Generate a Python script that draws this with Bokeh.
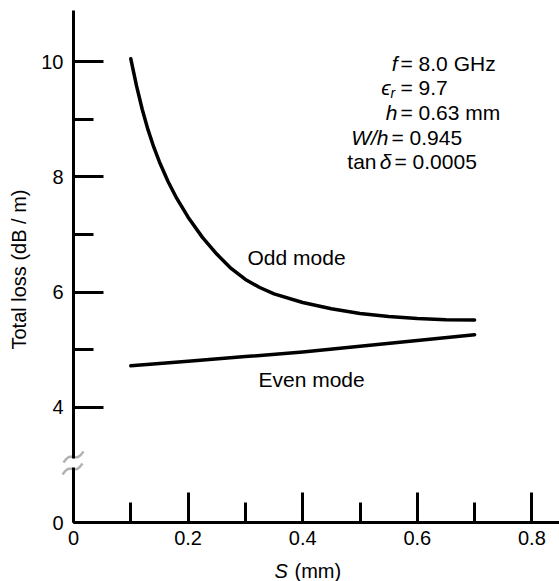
import math
from bokeh.plotting import figure
from bokeh.models import FixedTicker, Label, Range1d, PolyAnnotation, LinearAxis
from bokeh.embed import file_html
from bokeh.resources import INLINE

# ---------------- data ----------------
s_odd = [0.10, 0.11, 0.12, 0.13, 0.14, 0.15, 0.165, 0.18, 0.20, 0.225, 0.25, 0.275, 0.30,
         0.325, 0.35, 0.40, 0.45, 0.50, 0.55, 0.60, 0.65, 0.70]
loss_odd = [10.05, 9.58, 9.17, 8.82, 8.52, 8.26, 7.92, 7.63, 7.30, 6.95, 6.66, 6.41, 6.22,
            6.08, 5.97, 5.82, 5.71, 5.63, 5.575, 5.54, 5.52, 5.515]
s_even = [0.10, 0.20, 0.30, 0.40, 0.50, 0.60, 0.70]
loss_even = [4.72, 4.80, 4.88, 4.96, 5.06, 5.16, 5.26]

x_major = [0, 0.2, 0.4, 0.6, 0.8]
x_major_labels = ["0", "0.2", "0.4", "0.6", "0.8"]
x_minor = [0.1, 0.3, 0.5, 0.7]
y_major = [0, 4, 6, 8, 10]
y_major_labels = ["0", "4", "6", "8", "10"]
y_minor = [5, 7, 9]

curve_names = ["Odd mode", "Even mode"]
param_values = ["= 8.0 GHz", "= 9.7", "= 0.63 mm", "= 0.945", "= 0.0005"]

# ---------------- layout ----------------
W, H = 559, 581
X0_PX, Y0_PX = 73, 522      # pixel position of the axes origin
TOP_PX = 10                 # top end of the y axis
XS = 573.0                  # px per mm
YS = 57.6                   # px per dB/m
Y_ZERO = 2.0                # display position of the value 0 (below the axis break)

def ydisp(v):
    return v if v >= 3 else Y_ZERO + v * (3 - Y_ZERO) / 3.0

def dx(px):
    return (px - X0_PX) / XS

def dy(py):
    return Y_ZERO + (Y0_PX - py) / YS

FONT = "Liberation Sans"

p = figure(frame_width=W, frame_height=H, output_backend="svg", toolbar_location=None,
           x_range=Range1d(dx(0), dx(W)), y_range=Range1d(dy(H), dy(0)),
           x_axis_location=None, y_axis_location=None, min_border=0)
p.outline_line_color = None
p.grid.visible = False
p.background_fill_color = "white"
p.border_fill_color = "white"

def style_axis(ax, standoff):
    ax.axis_line_width = 3
    ax.axis_line_color = "black"
    ax.major_tick_in = 30
    ax.major_tick_out = 0
    ax.minor_tick_in = 20
    ax.minor_tick_out = 0
    ax.major_tick_line_width = 3
    ax.minor_tick_line_width = 3
    ax.major_tick_line_color = "black"
    ax.minor_tick_line_color = "black"
    ax.major_label_text_font = FONT
    ax.major_label_text_font_size = "20px"
    ax.major_label_text_color = "black"
    ax.major_label_standoff = standoff

# x axis, drawn at the (broken) zero of the y scale
xa = LinearAxis(fixed_location=Y_ZERO, bounds=(0, dx(W)))
xa.ticker = FixedTicker(ticks=x_major, minor_ticks=x_minor)
xa.major_label_overrides = {t: l for t, l in zip(x_major, x_major_labels)}
style_axis(xa, 8)
p.add_layout(xa, "below")

# y axis, drawn at S = 0
y_ticks_disp = [ydisp(v) for v in y_major]
ya = LinearAxis(fixed_location=0, bounds=(Y_ZERO, dy(TOP_PX)))
ya.ticker = FixedTicker(ticks=y_ticks_disp, minor_ticks=[ydisp(v) for v in y_minor])
ya.major_label_overrides = {t: l for t, l in zip(y_ticks_disp, y_major_labels)}
style_axis(ya, 10)
p.add_layout(ya, "left")

# curves
p.line(s_odd, [ydisp(v) for v in loss_odd], line_width=3.5, line_color="black",
       line_join="round", line_cap="round")
p.line(s_even, [ydisp(v) for v in loss_even], line_width=3.5, line_color="black",
       line_join="round", line_cap="round")

def add_label(text, px, py, size="20px", align="left", style="normal", angle=0.0):
    p.add_layout(Label(x=dx(px), y=dy(py), text=text, text_font=FONT, text_font_size=size,
                       text_align=align, text_baseline="middle", text_font_style=style,
                       text_color="black", angle=angle))

# curve labels
add_label(curve_names[0], 247, 257, size="21px")
add_label(curve_names[1], 258, 379, size="21px")

# parameters
PS = "21px"
add_label("f", 397, 63, size=PS, style="italic", align="right")
add_label(param_values[0], 400, 63, size=PS)
add_label("\u03f5", 390, 87, size=PS, style="italic", align="right")
add_label("r", 390, 92, size="14px", style="italic")
add_label(param_values[1], 400, 87, size=PS)
add_label("h", 397, 112, size=PS, style="italic", align="right")
add_label(param_values[2], 400, 112, size=PS)
add_label("W/h", 388, 137, size=PS, style="italic", align="right")
add_label(param_values[3], 391, 137, size=PS)
add_label("tan", 376, 161, size=PS, align="right")
add_label("\u03b4", 391, 161, size=PS, style="italic", align="right")
add_label(param_values[4], 394, 161, size=PS)

# axis titles
add_label("Total loss (dB / m)", 18, 269, size="20px", align="center", angle=math.pi / 2)
add_label("S", 274, 570, size="20px", style="italic")
add_label("(mm)", 294, 570, size="20px")

# axis break symbol
gap = PolyAnnotation(xs=[dx(69), dx(77), dx(77), dx(69)], ys=[dy(458), dy(458), dy(467), dy(467)],
                     fill_color="white", fill_alpha=1.0, line_color=None)
p.add_layout(gap)

def squiggle(cx, cy, half=10, rise=5.5, amp=2.5, n=21):
    ts = [-1 + 2 * i / (n - 1) for i in range(n)]
    xs = [dx(cx + half * t) for t in ts]
    ys = [dy(cy - (rise * t - amp * math.sin(math.pi * t))) for t in ts]
    return xs + xs[::-1], ys + ys[::-1]

for cx, cy in [(73, 456.5), (72, 468.5)]:
    xs, ys = squiggle(cx, cy)
    p.add_layout(PolyAnnotation(xs=xs, ys=ys, fill_color=None, fill_alpha=0,
                                line_color="black", line_width=2.5))

open("out.html", "w").write(file_html(p, INLINE))
